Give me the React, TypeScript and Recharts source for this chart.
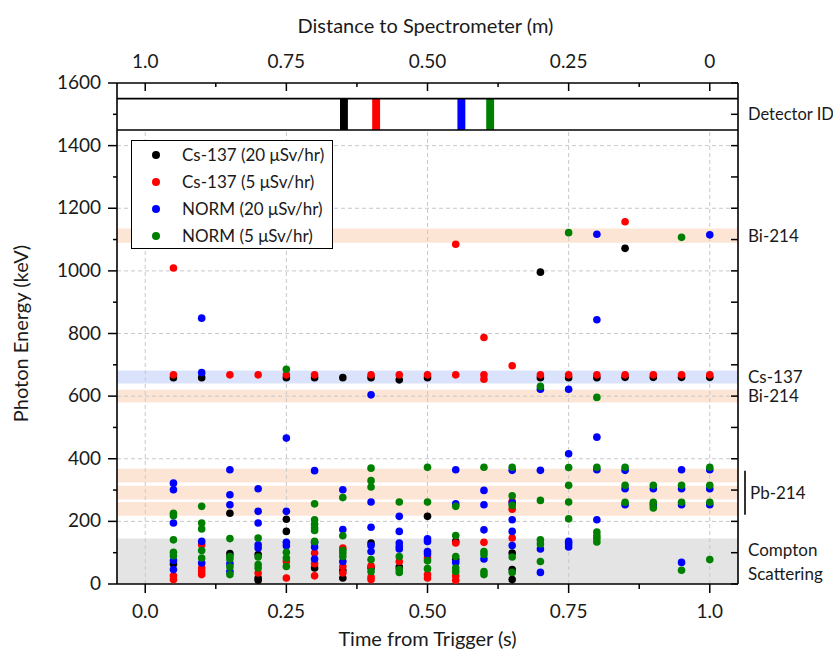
import React from 'react';
import { ScatterChart, Scatter, XAxis, YAxis, ReferenceArea, ReferenceLine, Legend } from 'recharts';

// ---------- axis ticks ----------
const timeAllTicks = [0, 0.125, 0.25, 0.375, 0.5, 0.625, 0.75, 0.875, 1.0];
const timeMajorTicks = [0, 0.25, 0.5, 0.75, 1.0];
const timeTickLabels = ['0.0', '0.25', '0.50', '0.75', '1.0'];
const distanceTickLabels = ['1.0', '0.75', '0.50', '0.25', '0'];
const energyAllTicks = [0, 100, 200, 300, 400, 500, 600, 700, 800, 900, 1000, 1100, 1200, 1300, 1400, 1500, 1600];
const energyLabelTicks = [0, 200, 400, 600, 800, 1000, 1200, 1400, 1600];
const energyGridTicks = [200, 400, 600, 800, 1000, 1200, 1400];

// ---------- series (time, energies) ----------
const cs137High: [number, number[]][] = [
  [0.05, [659, 64]], [0.1, [659]], [0.15, [226, 97]], [0.2, [94, 19, 12]],
  [0.25, [659, 207, 168]], [0.3, [659, 51]], [0.35, [659, 43, 19]], [0.4, [659, 131, 52]],
  [0.45, [652, 54]], [0.5, [659, 216]], [0.55, [136, 78]], [0.65, [99, 46, 14]],
  [0.7, [996, 659]], [0.75, [659]], [0.8, [659]], [0.85, [1072, 660]],
  [0.9, [660]], [0.95, [660]], [1.0, [660]],
];
const cs137Low: [number, number[]][] = [
  [0.05, [1009, 668, 26, 14]], [0.1, [125, 51, 40, 30]], [0.15, [668]], [0.2, [668, 35]],
  [0.25, [668, 72, 19]], [0.3, [668, 99, 65, 26]], [0.35, [115, 56, 35]], [0.4, [668, 58, 22, 14]],
  [0.45, [668, 72]], [0.5, [668, 83, 30, 19]], [0.55, [1085, 668, 131, 26, 12]],
  [0.6, [787, 668, 654, 133]], [0.65, [697, 264, 239, 147]], [0.7, [668]], [0.75, [668]],
  [0.8, [668]], [0.85, [1157, 668]], [0.9, [668]], [0.95, [668]], [1.0, [668]],
];
const normHigh: [number, number[]][] = [
  [0.05, [322, 301, 195, 75, 46]], [0.1, [849, 675, 136, 67]], [0.15, [365, 285, 253, 65, 40]],
  [0.2, [304, 232, 195, 125, 115]], [0.25, [466, 232, 133, 122]], [0.3, [362, 133, 118, 80]],
  [0.35, [301, 174, 72]], [0.4, [604, 262, 181, 123, 104]], [0.45, [216, 168, 131, 120, 112]],
  [0.5, [144, 136, 104, 96]], [0.55, [365, 256, 69]], [0.6, [299, 253, 173, 80]],
  [0.65, [363, 259, 205, 168, 123]], [0.7, [622, 363, 112, 37]], [0.75, [622, 416, 136, 128, 118]],
  [0.8, [1117, 844, 469, 365, 205]], [0.85, [363, 304, 253]], [0.9, [304, 253]],
  [0.95, [365, 304, 253, 69]], [1.0, [1115, 365, 304, 253]],
];
const normLow: [number, number[]][] = [
  [0.05, [226, 218, 141, 101, 90]], [0.1, [248, 195, 176, 107, 83]], [0.15, [145, 88, 80, 54, 30]],
  [0.2, [147, 86, 62, 51]], [0.25, [686, 101, 83, 56]], [0.3, [256, 205, 191, 179, 171, 136]],
  [0.35, [276, 154, 107, 99, 88]], [0.4, [370, 330, 310, 78, 40]], [0.45, [262, 88, 46, 37]],
  [0.5, [373, 262, 74, 49]], [0.55, [248, 155, 88, 51, 40]], [0.6, [373, 104, 94, 40, 30]],
  [0.65, [373, 282, 251, 86, 37]], [0.7, [631, 267, 141, 128, 72]], [0.75, [1122, 372, 315, 262, 208]],
  [0.8, [596, 373, 166, 154, 145, 134]], [0.85, [373, 315, 261]], [0.9, [315, 261, 243]],
  [0.95, [1107, 315, 261, 44]], [1.0, [373, 315, 261, 78]],
];
const seriesNames = ['Cs-137 (20 \u03bcSv/hr)', 'Cs-137 (5 \u03bcSv/hr)', 'NORM (20 \u03bcSv/hr)', 'NORM (5 \u03bcSv/hr)'];

// ---------- annotation bands (keV) ----------
const bi214High = [1090, 1135];
const cs137Band = [640, 682];
const bi214Low = [580, 620];
const pb214Bands = [[324, 368], [270, 314], [218, 262]];
const pb214Span = [221, 362];
const comptonBand = [0, 145];
const detectorStrip = [1450, 1550];
const detectorTimes = [0.352, 0.409, 0.56, 0.611];

const flatten = (cols: [number, number[]][]) =>
  cols.flatMap(([t, es]) => es.map((e) => ({ t, e })));

const COLORS = ['#000000', '#ff0000', '#0000ff', '#008000'];
const seriesData = [cs137High, cs137Low, normHigh, normLow].map(flatten);

const FONT = 'Lato, "Open Sans", sans-serif';
const TXT = '#1a1a1a';
const AX = { stroke: '#000', strokeWidth: 1.6 };
const PEACH = '#fde5d6';
const LBLUE = '#dbe2fb';
const GRAY = '#e4e4e4';
const GRID = '#c8c8c8';

const idx = (arr: number[], v: number) => arr.findIndex((a) => Math.abs(a - v) < 1e-6);

const BottomTick = (p: any) => {
  const i = idx(timeMajorTicks, p.payload.value);
  return (
    <g>
      <line x1={p.x} x2={p.x} y1={p.y} y2={p.y + (i >= 0 ? 9 : 5)} stroke="#000" strokeWidth={1.5} />
      {i >= 0 && (
        <text x={p.x} y={p.y + 34} textAnchor="middle" fontSize={19} fill={TXT} fontFamily={FONT}>
          {timeTickLabels[i]}
        </text>
      )}
    </g>
  );
};
const TopTick = (p: any) => {
  const i = idx(timeMajorTicks, p.payload.value);
  return (
    <g>
      <line x1={p.x} x2={p.x} y1={p.y} y2={p.y + (i >= 0 ? 8 : 4)} stroke="#000" strokeWidth={1.5} />
      {i >= 0 && (
        <text x={p.x} y={p.y - 15} textAnchor="middle" fontSize={19} fill={TXT} fontFamily={FONT}>
          {distanceTickLabels[i]}
        </text>
      )}
    </g>
  );
};
const LeftTick = (p: any) => {
  const i = idx(energyLabelTicks, p.payload.value);
  return (
    <g>
      <line x1={p.x} x2={p.x - (i >= 0 ? 9 : 4)} y1={p.y} y2={p.y} stroke="#000" strokeWidth={1.5} />
      {i >= 0 && (
        <text x={p.x - 16} y={p.y + 6} textAnchor="end" fontSize={19} fill={TXT} fontFamily={FONT}>
          {String(energyLabelTicks[i])}
        </text>
      )}
    </g>
  );
};
const RightTick = (p: any) => (
  <line x1={p.x} x2={p.x - 7} y1={p.y} y2={p.y} stroke="#000" strokeWidth={1.5} />
);

const dot = (color: string) => (p: any) =>
  p.cx == null ? <g /> : <circle cx={p.cx} cy={p.cy} r={3.8} fill={color} />;
const noDot = () => <g />;

const LegendBox = (props: any) => {
  const payload = (props.payload || []).filter((it: any) => it.type !== 'none');
  return (
    <div
      style={{
        boxSizing: 'border-box', width: 202, height: 109, border: '1.5px solid #000',
        background: '#fff', fontFamily: FONT, fontSize: 17, color: TXT,
      }}
    >
      {payload.map((it: any) => (
        <div key={it.value} style={{ display: 'flex', alignItems: 'center', height: 27 }}>
          <span
            style={{
              display: 'inline-block', width: 8, height: 8, borderRadius: 4,
              background: it.color, marginLeft: 20, marginRight: 22,
            }}
          />
          <span>{it.value}</span>
        </div>
      ))}
    </div>
  );
};

const rightText = (lines: string[], dyList: number[], bracket = false, size = 17) => (p: any) => {
  const vb = p.viewBox || {};
  const x = vb.x + vb.width;
  const cy = vb.y + vb.height / 2;
  return (
    <g>
      {bracket && <line x1={x + 7} x2={x + 7} y1={vb.y} y2={vb.y + vb.height} stroke="#000" strokeWidth={1.6} />}
      {lines.map((s, k) => (
        <text key={s} x={x + (bracket ? 12 : 10)} y={cy + dyList[k]} fontSize={size} fill={TXT} fontFamily={FONT}>
          {s}
        </text>
      ))}
    </g>
  );
};

export default function App() {
  return (
    <div style={{ position: 'absolute', left: 0, top: 0, width: 833, height: 652, background: '#fff' }}>
      <ScatterChart
        width={833}
        height={652}
        margin={{ top: 43, right: 85, bottom: 28, left: 57 }}
        style={{ fontFamily: FONT }}
      >
        <XAxis
          xAxisId="b" type="number" dataKey="t" domain={[-0.05, 1.05]} ticks={timeAllTicks} interval={0}
          tickSize={0} tickMargin={0} tickLine={false} axisLine={AX} tick={BottomTick} height={40}
          label={{
            content: (p: any) => (
              <text x={p.viewBox.x + p.viewBox.width / 2} y={p.viewBox.y + 62} textAnchor="middle" fontSize={20} fill={TXT} fontFamily={FONT}>
                Time from Trigger (s)
              </text>
            ),
          }}
        />
        <XAxis
          xAxisId="t" orientation="top" type="number" dataKey="t" domain={[-0.05, 1.05]} ticks={timeAllTicks} interval={0}
          tickSize={0} tickMargin={0} tickLine={false} axisLine={AX} tick={TopTick} height={40}
          label={{
            content: (p: any) => (
              <text x={p.viewBox.x + p.viewBox.width / 2 - 2} y={p.viewBox.y + p.viewBox.height - 50} textAnchor="middle" fontSize={20} fill={TXT} fontFamily={FONT}>
                Distance to Spectrometer (m)
              </text>
            ),
          }}
        />
        <YAxis
          yAxisId="l" type="number" dataKey="e" domain={[0, 1600]} ticks={energyAllTicks} interval={0}
          tickSize={0} tickMargin={0} tickLine={false} axisLine={AX} tick={LeftTick} width={60}
          label={{
            content: (p: any) => {
              const cx = 28;
              const cy = p.viewBox.y + p.viewBox.height / 2;
              return (
                <text x={cx} y={cy} transform={`rotate(-90, ${cx}, ${cy})`} textAnchor="middle" fontSize={20} fill={TXT} fontFamily={FONT}>
                  Photon Energy (keV)
                </text>
              );
            },
          }}
        />
        <YAxis
          yAxisId="r" orientation="right" type="number" dataKey="e" domain={[0, 1600]} ticks={energyAllTicks} interval={0}
          tickSize={0} tickMargin={0} tickLine={false} axisLine={AX} tick={RightTick} width={10}
        />

        {/* bands */}
        <ReferenceArea xAxisId="b" yAxisId="l" x1={-0.05} x2={1.05} y1={comptonBand[0]} y2={comptonBand[1]} fill={GRAY} fillOpacity={1} stroke="none"
          label={{ content: rightText(['Compton', 'Scattering'], [-5, 19]) }} />
        {pb214Bands.map((b, k) => (
          <ReferenceArea key={'pb' + k} xAxisId="b" yAxisId="l" x1={-0.05} x2={1.05} y1={b[0]} y2={b[1]} fill={PEACH} fillOpacity={1} stroke="none" />
        ))}
        <ReferenceArea xAxisId="b" yAxisId="l" x1={-0.05} x2={1.05} y1={pb214Span[0]} y2={pb214Span[1]} fill="none" stroke="none"
          label={{ content: rightText(['Pb-214'], [6], true) }} />
        <ReferenceArea xAxisId="b" yAxisId="l" x1={-0.05} x2={1.05} y1={bi214Low[0]} y2={bi214Low[1]} fill={PEACH} fillOpacity={1} stroke="none"
          label={{ content: rightText(['Bi-214'], [6]) }} />
        <ReferenceArea xAxisId="b" yAxisId="l" x1={-0.05} x2={1.05} y1={cs137Band[0]} y2={cs137Band[1]} fill={LBLUE} fillOpacity={1} stroke="none"
          label={{ content: rightText(['Cs-137'], [6]) }} />
        <ReferenceArea xAxisId="b" yAxisId="l" x1={-0.05} x2={1.05} y1={bi214High[0]} y2={bi214High[1]} fill={PEACH} fillOpacity={1} stroke="none"
          label={{ content: rightText(['Bi-214'], [6]) }} />

        {/* grid */}
        {energyGridTicks.map((v) => (
          <ReferenceLine key={'gy' + v} xAxisId="b" yAxisId="l" y={v} stroke={GRID} strokeWidth={1} strokeDasharray="4 3" />
        ))}
        {timeMajorTicks.map((v) => (
          <ReferenceLine key={'gx' + v} xAxisId="b" yAxisId="l" segment={[{ x: v, y: 0 }, { x: v, y: detectorStrip[0] }]} stroke={GRID} strokeWidth={1} strokeDasharray="4 3" />
        ))}

        {/* detector strip */}
        <ReferenceArea xAxisId="b" yAxisId="l" x1={-0.05} x2={1.05} y1={detectorStrip[0]} y2={detectorStrip[1]} fill="#fff" fillOpacity={1} stroke="none"
          label={{ content: rightText(['Detector ID'], [6], false, 16.5) }} />
        {detectorTimes.map((t, k) => (
          <ReferenceArea key={'det' + k} xAxisId="b" yAxisId="l" x1={t - 0.007} x2={t + 0.007} y1={detectorStrip[0]} y2={detectorStrip[1]} fill={COLORS[k]} fillOpacity={1} stroke="none" />
        ))}
        <ReferenceLine xAxisId="b" yAxisId="l" y={detectorStrip[0]} stroke="#000" strokeWidth={1.6} />
        <ReferenceLine xAxisId="b" yAxisId="l" y={detectorStrip[1]} stroke="#000" strokeWidth={1.6} />

        {/* invisible series so the top and right frame axes get their ticks */}
        <Scatter
          name="frame" data={seriesData[0]} xAxisId="t" yAxisId="r" legendType="none"
          shape={noDot} isAnimationActive={false}
        />

        {seriesData.map((d, k) => (
          <Scatter
            key={seriesNames[k]} name={seriesNames[k]} data={d} xAxisId="b" yAxisId="l"
            fill={COLORS[k]} shape={dot(COLORS[k])} isAnimationActive={false}
          />
        ))}

        <Legend
          layout="vertical" align="center" verticalAlign="middle" content={LegendBox}
          wrapperStyle={{ position: 'absolute', left: 131, top: 140, width: 'auto' }}
        />
      </ScatterChart>
    </div>
  );
}
